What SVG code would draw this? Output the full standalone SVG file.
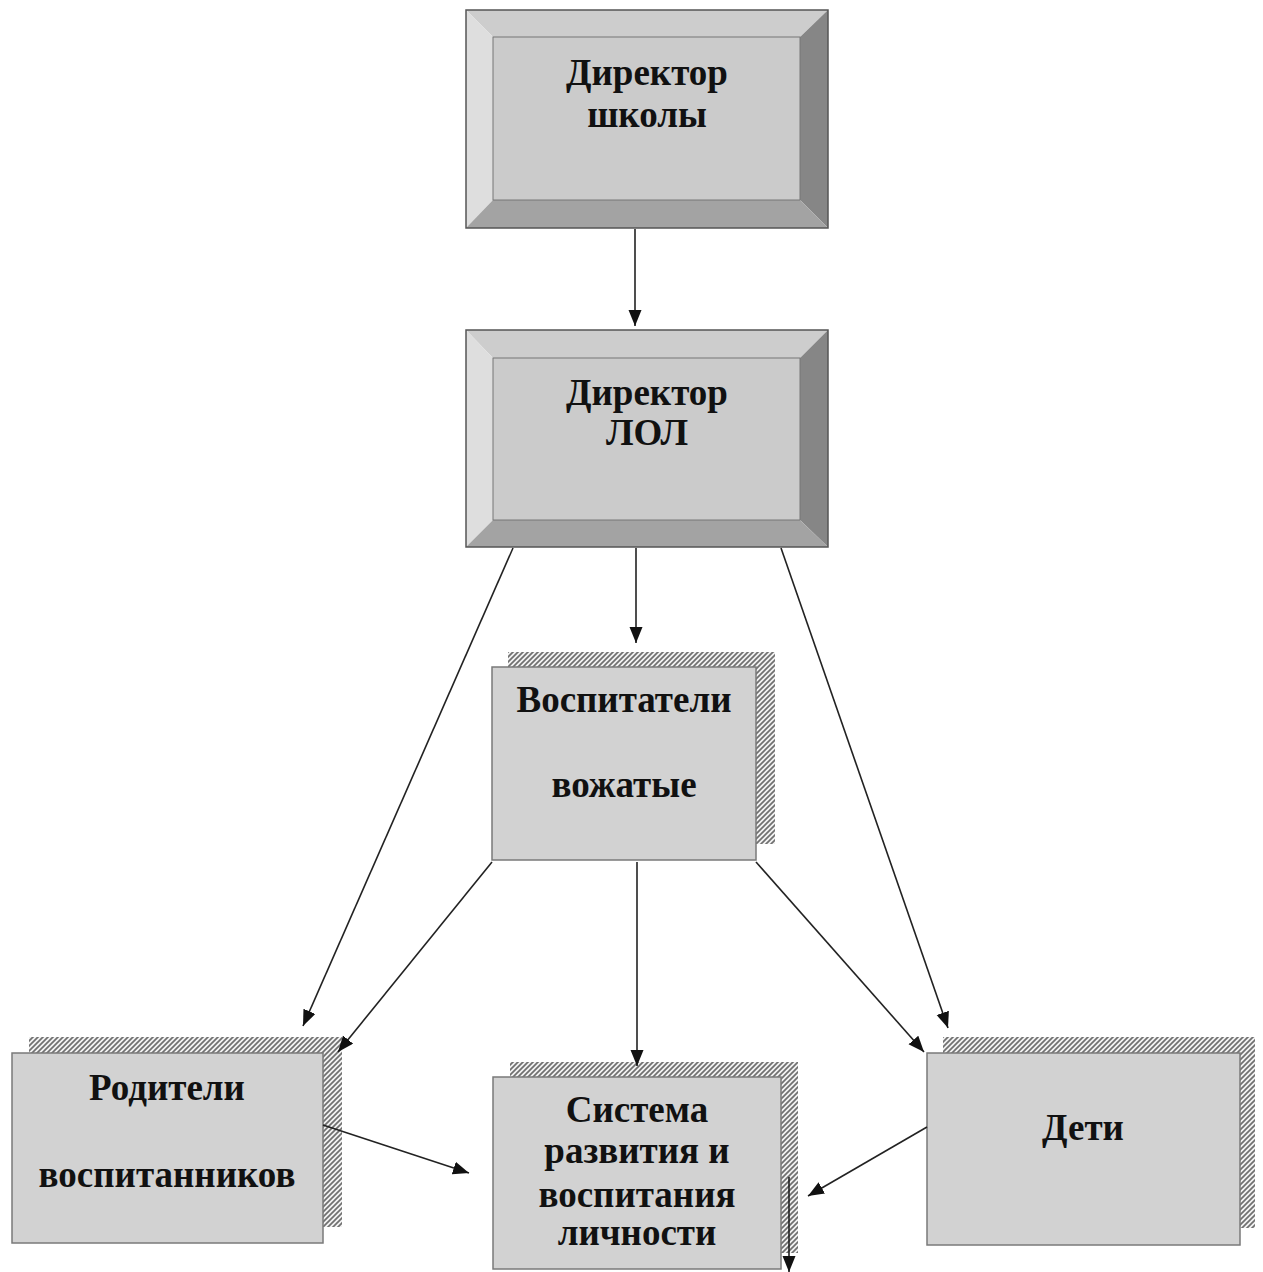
<svg xmlns="http://www.w3.org/2000/svg" width="1263" height="1272" viewBox="0 0 1263 1272">
<defs>
<pattern id="hatch" patternUnits="userSpaceOnUse" width="5" height="5">
<rect width="5" height="5" fill="#f2f2f2"/>
<path d="M-1,6 L6,-1 M-1,1 L1,-1 M4,6 L6,4" stroke="#707070" stroke-width="1.7"/>
</pattern>
<marker id="arr" markerUnits="userSpaceOnUse" markerWidth="18" markerHeight="14" refX="16" refY="6.5" orient="auto">
<path d="M0,0 L16,6.5 L0,13 Z" fill="#111"/>
</marker>
<style>
.lbl{font-family:"Liberation Serif","Times New Roman",serif;font-weight:bold;font-size:37px;fill:#111;text-anchor:middle}
.face{fill:#cbcbcb;stroke:#777;stroke-width:1}
.flat{fill:#d2d2d2;stroke:#7a7a7a;stroke-width:1.5}
.shadow{fill:url(#hatch)}
.bt{fill:#cdcdcd}
.bl{fill:#dedede}
.br{fill:#868686}
.bb{fill:#a3a3a3}
.edge{fill:none;stroke:#555;stroke-width:1.5}
.conn{fill:none;stroke:#222;stroke-width:1.6;marker-end:url(#arr)}
</style>
</defs>

<g id="node-director-school">
<polygon class="bt" points="466,10 828,10 800,37 493,37"/>
<polygon class="bl" points="466,10 493,37 493,200 466,228"/>
<polygon class="br" points="828,10 828,228 800,200 800,37"/>
<polygon class="bb" points="466,228 493,200 800,200 828,228"/>
<rect class="face" x="493" y="37" width="307" height="163"/>
<rect class="edge" x="466" y="10" width="362" height="218"/>
<text class="lbl" x="647" y="85">Директор</text>
<text class="lbl" x="647" y="127">школы</text>
</g>

<g id="node-director-lol">
<polygon class="bt" points="466,330 828,330 800,358 493,358"/>
<polygon class="bl" points="466,330 493,358 493,520 466,547"/>
<polygon class="br" points="828,330 828,547 800,520 800,358"/>
<polygon class="bb" points="466,547 493,520 800,520 828,547"/>
<rect class="face" x="493" y="358" width="307" height="162"/>
<rect class="edge" x="466" y="330" width="362" height="217"/>
<text class="lbl" x="647" y="405">Директор</text>
<text class="lbl" x="647" y="445">ЛОЛ</text>
</g>

<g id="node-educators">
<rect class="shadow" x="508" y="652" width="267" height="192"/>
<rect class="flat" x="492" y="667" width="264" height="193"/>
<text class="lbl" x="624" y="712">Воспитатели</text>
<text class="lbl" x="624" y="797">вожатые</text>
</g>

<g id="node-parents">
<rect class="shadow" x="29" y="1037" width="313" height="190"/>
<rect class="flat" x="12" y="1053" width="311" height="190"/>
<text class="lbl" x="167" y="1100">Родители</text>
<text class="lbl" x="167" y="1187">воспитанников</text>
</g>

<g id="node-system">
<rect class="shadow" x="510" y="1062" width="288" height="191"/>
<rect class="flat" x="493" y="1077" width="288" height="192"/>
<text class="lbl" x="637" y="1122">Система</text>
<text class="lbl" x="637" y="1163">развития и</text>
<text class="lbl" x="637" y="1207">воспитания</text>
<text class="lbl" x="637" y="1245">личности</text>
</g>

<g id="node-children">
<rect class="shadow" x="943" y="1037" width="312" height="191"/>
<rect class="flat" x="927" y="1053" width="313" height="192"/>
<text class="lbl" x="1083" y="1140">Дети</text>
</g>

<g id="connectors">
<line class="conn" x1="635" y1="229" x2="635" y2="326"/>
<line class="conn" x1="636" y1="548" x2="636" y2="643"/>
<line class="conn" x1="513" y1="548" x2="303" y2="1026"/>
<line class="conn" x1="781" y1="548" x2="948" y2="1028"/>
<line class="conn" x1="492" y1="862" x2="338" y2="1052"/>
<line class="conn" x1="637" y1="862" x2="637" y2="1066"/>
<line class="conn" x1="756" y1="862" x2="924" y2="1052"/>
<line class="conn" x1="323" y1="1125" x2="469" y2="1173"/>
<line class="conn" x1="927" y1="1127" x2="808" y2="1196"/>
<line class="conn" x1="789" y1="1177" x2="789" y2="1272"/>
</g>
</svg>
